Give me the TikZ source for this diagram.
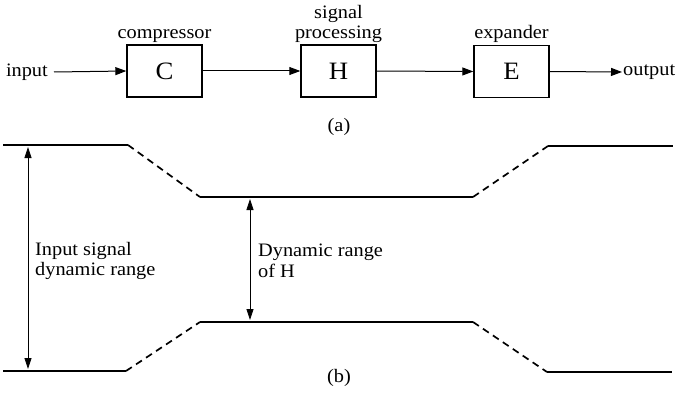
\documentclass[tikz,border=0pt]{standalone}
\usepackage{fontspec}
\setmainfont{Liberation Serif}[FakeStretch=1.07]
\usetikzlibrary{arrows.meta}
\begin{document}
\begin{tikzpicture}[x=1pt,y=-1pt,
 txt/.style={font=\fontsize{19}{20.5}\selectfont, inner sep=0pt},
 blk/.style={draw, line width=1.4pt, minimum width=75pt, minimum height=52pt, inner sep=0pt, font=\fontsize{25}{25}\selectfont},
 flow/.style={line width=1pt, -{Triangle[length=11pt,width=8pt]}},
 lvl/.style={line width=1.7pt},
 ramp/.style={line width=1.7pt, dash pattern=on 7pt off 5pt},
 rng/.style={line width=0.8pt, {Triangle[length=11pt,width=7pt]}-{Triangle[length=11pt,width=7pt]}}]
\useasboundingbox (0,0) rectangle (679,393);
% part (a)
\node[blk] (C) at (164.5,71) {C};
\node[blk] (H) at (338.5,71) {H};
\node[blk] (E) at (511.5,71.5) {E};
\node[txt, anchor=east] (in) at (48,72) {input};
\node[txt, anchor=west] (out) at (623,72) {output};
\node[txt, anchor=south] (lc) at (164.5,43) {compressor};
\node[txt, anchor=south, align=center] (lh) at (338.5,43) {signal\\processing};
\node[txt, anchor=south] (le) at (511.5,43) {expander};
\node[txt] (capa) at (339,127) {(a)};
\draw[flow] ([xshift=6pt]in.east) -- (C.west);
\draw[flow] (C.east) -- (H.west);
\draw[flow] (H.east) -- (E.west);
\draw[flow] (E.east) -- ([xshift=-1pt]out.west);
% part (b)
\coordinate (t1) at (3,145);
\coordinate (t2) at (128,145);
\coordinate (t3) at (200,197);
\coordinate (t4) at (473,197);
\coordinate (t5) at (548,146);
\coordinate (t6) at (673,146);
\coordinate (b1) at (3,371);
\coordinate (b2) at (126,371);
\coordinate (b3) at (200,322);
\coordinate (b4) at (473,322);
\coordinate (b5) at (547,372);
\coordinate (b6) at (672,372);
\draw[lvl] (t1) -- (t2);
\draw[ramp] (t2) -- (t3);
\draw[lvl] (t3) -- (t4);
\draw[ramp] (t4) -- (t5);
\draw[lvl] (t5) -- (t6);
\draw[lvl] (b1) -- (b2);
\draw[ramp] (b2) -- (b3);
\draw[lvl] (b3) -- (b4);
\draw[ramp] (b4) -- (b5);
\draw[lvl] (b5) -- (b6);
\coordinate (a1) at (28,147);
\coordinate (a2) at (28,369);
\coordinate (m1) at (250,199);
\coordinate (m2) at (250,320);
\draw[rng] (a1) -- (a2);
\draw[rng] (m1) -- (m2);
\node[txt, anchor=west, align=left] (lin) at (35,261) {Input signal\\dynamic range};
\node[txt, anchor=west, align=left] (lH) at (258,261) {Dynamic range\\of H};
\node[txt] (capb) at (339,378) {(b)};
\end{tikzpicture}
\end{document}
